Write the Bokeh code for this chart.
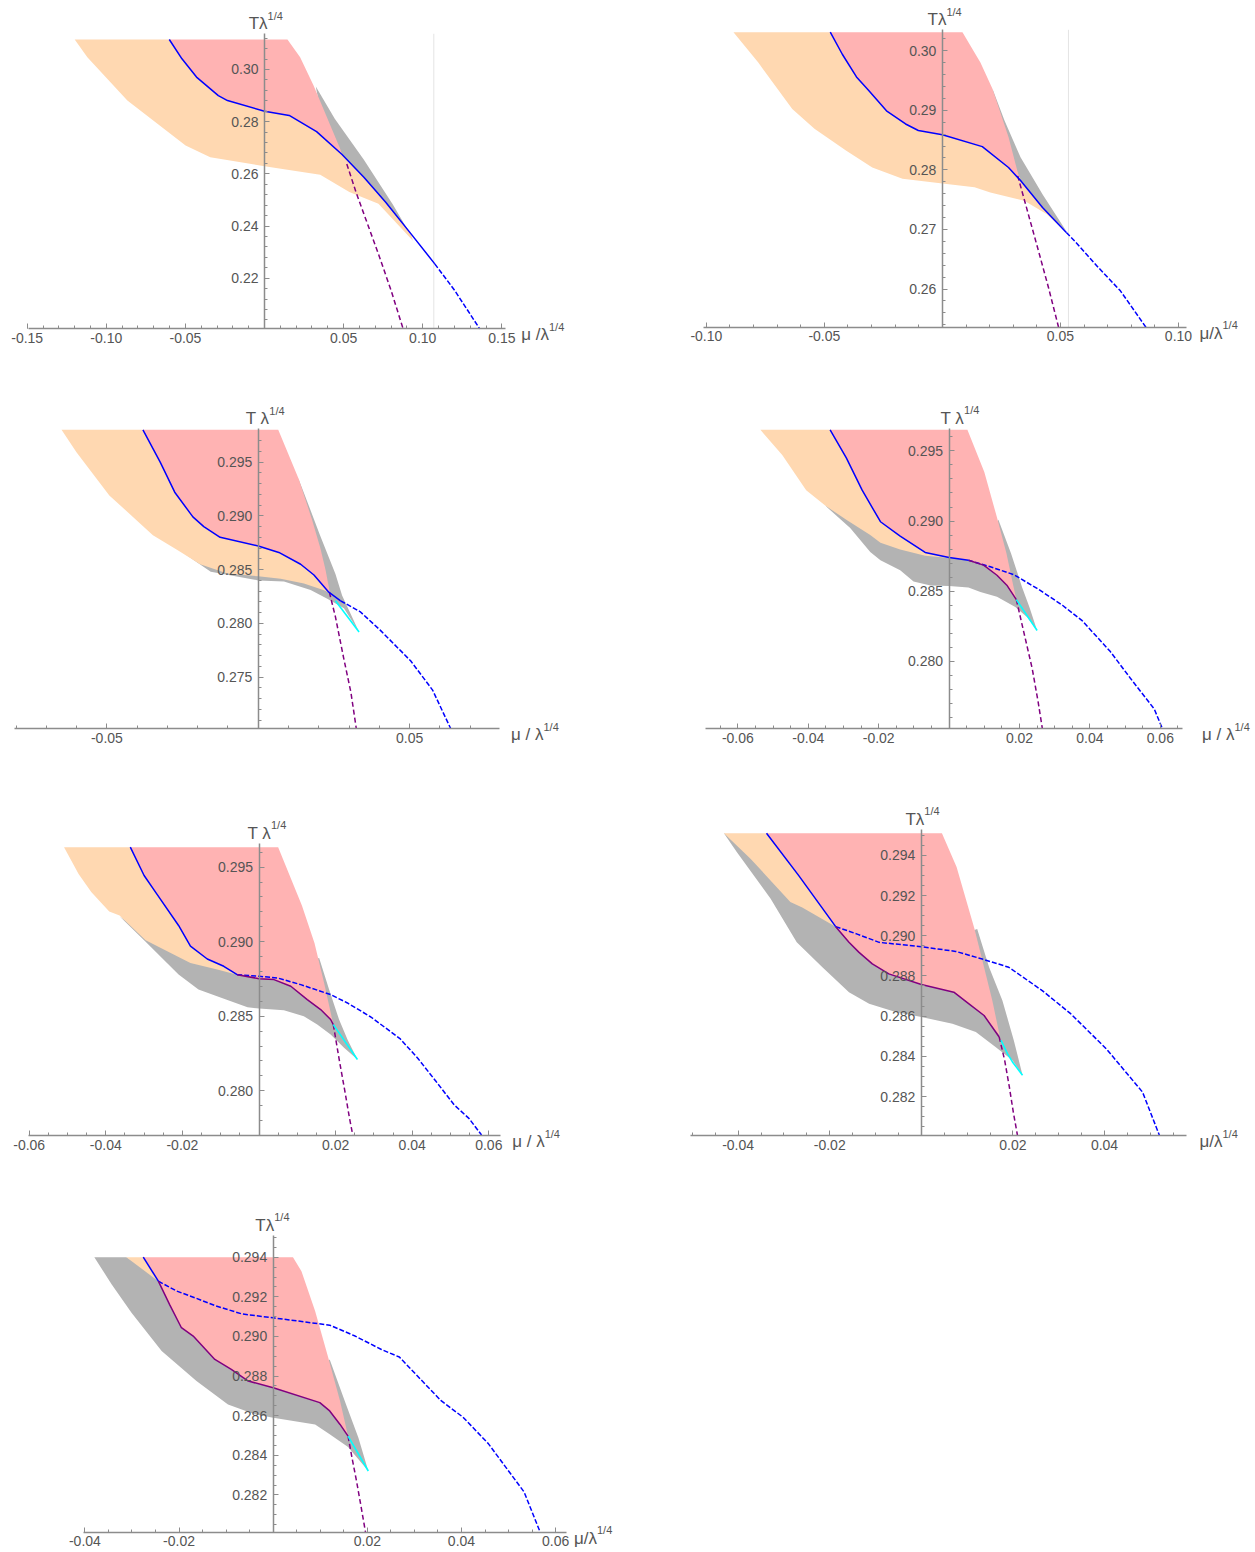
import numpy as np
from bokeh.plotting import figure
from bokeh.models import Range1d, LinearAxis, FixedTicker, NumeralTickFormatter, Label
from bokeh.layouts import column, row
from bokeh.embed import file_html
from bokeh.resources import INLINE

# ---------------- colours / fonts ----------------
ORANGE = "#FFD8B1"
PINK = "#FFB3B3"
GREY = "#B3B3B3"
BLUE = "#0000FF"
PURPLE = "#800080"
CYAN = "#00FFFF"
AXIS = "#8C8C8C"
TXT = "#555555"
FONT = "Liberation Sans"

# ================= DATA (mu/lambda^1/4 , T lambda^1/4) =================
# ---- panel 1 ----
P1_ORANGE_MU = [-0.1200, -0.1120, -0.0867, -0.0499, -0.0343, 0.0000, 0.0352, 0.0536, 0.0720, 0.0938, 0.0926, 0.0766, 0.0628, 0.0490, 0.0329, 0.0156, 0.0000, -0.0234, -0.0292, -0.0430, -0.0522, -0.0602]
P1_ORANGE_T = [0.3115, 0.3047, 0.2881, 0.2709, 0.2664, 0.2629, 0.2597, 0.2530, 0.2485, 0.2344, 0.2370, 0.2491, 0.2587, 0.2674, 0.2762, 0.2824, 0.2840, 0.2881, 0.2900, 0.2971, 0.3041, 0.3115]
P1_PINK_MU = [-0.0602, 0.0145, 0.0225, 0.0310, 0.0478, 0.0490, 0.0329, 0.0156, 0.0000, -0.0234, -0.0292, -0.0430, -0.0522]
P1_PINK_T = [0.3115, 0.3115, 0.3047, 0.2939, 0.2696, 0.2674, 0.2762, 0.2824, 0.2840, 0.2881, 0.2900, 0.2971, 0.3041]
P1_GREY_MU = [0.0324, 0.0444, 0.0628, 0.0812, 0.0926, 0.0766, 0.0628, 0.0490, 0.0360]
P1_GREY_T = [0.2935, 0.2811, 0.2654, 0.2482, 0.2364, 0.2491, 0.2587, 0.2674, 0.2820]
P1_BLUE_MU = [-0.0602, -0.0522, -0.0430, -0.0292, -0.0234, 0.0000, 0.0156, 0.0329, 0.0490, 0.0628, 0.0766, 0.0926, 0.1076]
P1_BLUE_T = [0.3115, 0.3041, 0.2971, 0.2900, 0.2881, 0.2840, 0.2824, 0.2762, 0.2674, 0.2587, 0.2491, 0.2370, 0.2255]
P1_BLUE_DASH_MU = [0.1076, 0.1202, 0.1360]
P1_BLUE_DASH_T = [0.2255, 0.2153, 0.2006]
P1_PURPLE_DASH_MU = [0.0520, 0.0582, 0.0651, 0.0720, 0.0800, 0.0876]
P1_PURPLE_DASH_T = [0.2638, 0.2523, 0.2408, 0.2293, 0.2153, 0.2006]
P1_VLINE = 0.107

# ---- panel 2 ----
P2_ORANGE_MU = [-0.0885, -0.0780, -0.0636, -0.0542, -0.0407, -0.0297, -0.0169, 0.0000, 0.0136, 0.0203, 0.0347, 0.0441, 0.0525, 0.0424, 0.0331, 0.0280, 0.0169, 0.0000, -0.0102, -0.0156, -0.0237, -0.0314, -0.0364, -0.0424, -0.0475]
P2_ORANGE_T = [0.3031, 0.2980, 0.2902, 0.2869, 0.2832, 0.2804, 0.2785, 0.2777, 0.2771, 0.2762, 0.2748, 0.2726, 0.2695, 0.2737, 0.2782, 0.2804, 0.2839, 0.2859, 0.2866, 0.2877, 0.2899, 0.2934, 0.2956, 0.2994, 0.3031]
P2_PINK_MU = [-0.0475, 0.0085, 0.0161, 0.0212, 0.0280, 0.0319, 0.0331, 0.0280, 0.0169, 0.0000, -0.0102, -0.0156, -0.0237, -0.0314, -0.0364, -0.0424]
P2_PINK_T = [0.3031, 0.3031, 0.2980, 0.2936, 0.2855, 0.2796, 0.2782, 0.2804, 0.2839, 0.2859, 0.2866, 0.2877, 0.2899, 0.2934, 0.2956, 0.2994]
P2_GREY_MU = [0.0212, 0.0263, 0.0331, 0.0424, 0.0525, 0.0424, 0.0331, 0.0240]
P2_GREY_T = [0.2936, 0.2883, 0.2821, 0.2759, 0.2697, 0.2737, 0.2782, 0.2870]
P2_BLUE_MU = [-0.0475, -0.0424, -0.0364, -0.0314, -0.0237, -0.0156, -0.0102, 0.0000, 0.0169, 0.0280, 0.0331, 0.0424, 0.0525]
P2_BLUE_T = [0.3031, 0.2994, 0.2956, 0.2934, 0.2899, 0.2877, 0.2866, 0.2859, 0.2839, 0.2804, 0.2782, 0.2737, 0.2695]
P2_BLUE_DASH_MU = [0.0525, 0.0559, 0.0661, 0.0754, 0.0862]
P2_BLUE_DASH_T = [0.2695, 0.2681, 0.2636, 0.2597, 0.2536]
P2_PURPLE_DASH_MU = [0.0319, 0.0356, 0.0407, 0.0449, 0.0492]
P2_PURPLE_DASH_T = [0.2790, 0.2737, 0.2664, 0.2603, 0.2536]
P2_VLINE = 0.0534

# ---- panel 3 ----
P3_GREY_MU = [0.0132, 0.0150, 0.0204, 0.0255, 0.0277, 0.0333, 0.0283, 0.0228, 0.0173, 0.0085, 0.0000, -0.0157, -0.0240, -0.0180, 0.0000, 0.0150]
P3_GREY_T = [0.2935, 0.2922, 0.2882, 0.2846, 0.2826, 0.2792, 0.2814, 0.2823, 0.2831, 0.2839, 0.2840, 0.2848, 0.2864, 0.2862, 0.2855, 0.2848]
P3_ORANGE_MU = [-0.0650, -0.0600, -0.0492, -0.0348, -0.0266, -0.0192, -0.0102, 0.0000, 0.0074, 0.0151, 0.0217, 0.0237, 0.0184, 0.0140, 0.0068, 0.0000, -0.0126, -0.0180, -0.0216, -0.0276, -0.0324, -0.0381]
P3_ORANGE_T = [0.2980, 0.2959, 0.2919, 0.2882, 0.2868, 0.2855, 0.28463, 0.28438, 0.28416, 0.2837, 0.28308, 0.2828, 0.2845, 0.2855, 0.2866, 0.2872, 0.2880, 0.2890, 0.2899, 0.2922, 0.2950, 0.2980]
P3_PINK_MU = [-0.0381, 0.0066, 0.0134, 0.0177, 0.0205, 0.0222, 0.0237, 0.0184, 0.0140, 0.0068, 0.0000, -0.0126, -0.0180, -0.0216, -0.0276, -0.0324]
P3_PINK_T = [0.2980, 0.2980, 0.2934, 0.2897, 0.2870, 0.2850, 0.2828, 0.2845, 0.2855, 0.2866, 0.2872, 0.2880, 0.2890, 0.2899, 0.2922, 0.2950]
P3_BLUE_MU = [-0.0381, -0.0324, -0.0276, -0.0216, -0.0180, -0.0126, 0.0000, 0.0068, 0.0140, 0.0184, 0.0233, 0.0272]
P3_BLUE_T = [0.2980, 0.2950, 0.2922, 0.2899, 0.2890, 0.2880, 0.2872, 0.2866, 0.2855, 0.2845, 0.2829, 0.2821]
P3_BLUE_DASH_MU = [0.0272, 0.0336, 0.0402, 0.0504, 0.0576, 0.0636]
P3_BLUE_DASH_T = [0.2821, 0.2811, 0.2794, 0.2765, 0.2738, 0.2702]
P3_PURPLE_DASH_MU = [0.0235, 0.0255, 0.0282, 0.0306, 0.0324]
P3_PURPLE_DASH_T = [0.2829, 0.2806, 0.2768, 0.2736, 0.2702]
P3_CYAN_MU = [0.0255, 0.0333]
P3_CYAN_T = [0.2821, 0.2792]

# ---- panel 4 ----
P4_GREY_MU = [-0.0352, -0.0281, -0.0224, -0.0195, -0.0139, -0.0101, -0.0053, 0.0000, 0.0055, 0.0089, 0.0136, 0.0188, 0.0221, 0.0250, 0.0228, 0.0207, 0.0176, 0.0140, 0.0100, 0.0000, -0.0139, -0.0224, -0.0290]
P4_GREY_T = [0.2911, 0.2895, 0.2878, 0.2872, 0.2865, 0.2857, 0.2854, 0.28538, 0.28526, 0.28495, 0.2846, 0.28388, 0.28317, 0.2822, 0.28388, 0.28531, 0.28769, 0.2901, 0.2885, 0.2880, 0.2884, 0.2895, 0.2904]
P4_ORANGE_MU = [-0.0536, -0.0474, -0.0406, -0.0352, -0.0292, -0.0224, -0.0195, -0.0139, -0.0068, 0.0000, -0.0068, -0.0139, -0.0195, -0.0247, -0.0292, -0.0338]
P4_ORANGE_T = [0.2965, 0.2947, 0.2922, 0.2911, 0.2901, 0.2890, 0.28845, 0.28798, 0.28752, 0.28736, 0.28776, 0.28893, 0.28995, 0.2922, 0.2945, 0.2965]
P4_PINK_MU = [-0.0338, 0.0052, 0.0100, 0.0138, 0.0163, 0.0179, 0.0191, 0.0164, 0.0136, 0.0098, 0.0055, 0.0000, -0.0068, -0.0139, -0.0195, -0.0247, -0.0292]
P4_PINK_T = [0.2965, 0.2965, 0.2935, 0.29007, 0.28769, 0.28579, 0.2844, 0.28543, 0.28614, 0.28686, 0.28721, 0.2874, 0.28776, 0.28893, 0.28995, 0.2922, 0.2945]
P4_BLUE_MU = [-0.0338, -0.0292, -0.0247, -0.0195, -0.0139, -0.0068, 0.0000, 0.0055]
P4_BLUE_T = [0.2965, 0.2945, 0.2922, 0.28995, 0.28893, 0.28776, 0.2874, 0.28721]
P4_BLUE_DASH_MU = [0.0055, 0.0117, 0.0183, 0.0250, 0.0322, 0.0378, 0.0458, 0.0515, 0.0583, 0.0606]
P4_BLUE_DASH_T = [0.28721, 0.28674, 0.28619, 0.2852, 0.2840, 0.2829, 0.2807, 0.2788, 0.2766, 0.2752]
P4_PURPLE_MU = [0.0055, 0.0098, 0.0136, 0.0164, 0.0191]
P4_PURPLE_T = [0.28721, 0.28686, 0.28614, 0.28543, 0.2844]
P4_PURPLE_DASH_MU = [0.0191, 0.0213, 0.0236, 0.0253, 0.0265]
P4_PURPLE_DASH_T = [0.2844, 0.2820, 0.2795, 0.2771, 0.2752]
P4_CYAN_MU = [0.0191, 0.0250]
P4_CYAN_T = [0.2844, 0.2822]

# ---- panel 5 ----
P5_GREY_MU = [-0.0364, -0.0296, -0.0210, -0.0158, -0.0106, -0.0030, 0.0000, 0.0065, 0.0117, 0.0152, 0.0187, 0.0222, 0.0257, 0.0231, 0.0209, 0.0183, 0.0157, 0.0100, 0.0000, -0.0109, -0.0201, -0.0296]
P5_GREY_T = [0.2917, 0.2900, 0.2878, 0.2868, 0.2863, 0.2856, 0.28552, 0.2854, 0.2850, 0.28444, 0.28377, 0.28288, 0.2821, 0.28344, 0.28478, 0.28679, 0.2889, 0.2885, 0.2880, 0.2883, 0.2892, 0.2904]
P5_ORANGE_MU = [-0.0509, -0.0471, -0.0438, -0.0391, -0.0364, -0.0296, -0.0201, -0.0179, -0.0109, -0.0057, -0.0092, -0.0135, -0.0179, -0.0210, -0.0267, -0.0300, -0.0336]
P5_ORANGE_T = [0.29634, 0.29455, 0.29333, 0.29203, 0.29176, 0.29009, 0.28886, 0.28857, 0.28813, 0.28779, 0.28835, 0.28884, 0.2897, 0.29109, 0.29321, 0.29444, 0.29634]
P5_PINK_MU = [-0.0336, 0.0050, 0.0112, 0.0145, 0.0170, 0.0194, 0.0187, 0.0161, 0.0126, 0.0083, 0.0039, 0.0000, -0.0057, -0.0092, -0.0135, -0.0179, -0.0210, -0.0267, -0.0300]
P5_PINK_T = [0.29634, 0.29634, 0.29243, 0.2899, 0.28723, 0.28444, 0.28478, 0.28545, 0.28612, 0.28701, 0.28746, 0.28752, 0.28779, 0.28835, 0.28884, 0.2897, 0.29109, 0.29321, 0.29444]
P5_BLUE_MU = [-0.0336, -0.0300, -0.0267, -0.0210, -0.0179, -0.0135, -0.0092, -0.0057]
P5_BLUE_T = [0.29634, 0.29444, 0.29321, 0.29109, 0.2897, 0.28884, 0.28835, 0.28779]
P5_BLUE_DASH_MU = [-0.0057, 0.0000, 0.0048, 0.0109, 0.0187, 0.0231, 0.0292, 0.0368, 0.0415, 0.0463, 0.0510, 0.0548, 0.0581]
P5_BLUE_DASH_T = [0.28779, 0.28768, 0.28757, 0.28712, 0.28645, 0.28589, 0.28495, 0.2835, 0.28217, 0.2806, 0.27904, 0.27815, 0.27703]
P5_PURPLE_MU = [-0.0057, 0.0000, 0.0039, 0.0083, 0.0126, 0.0161, 0.0187, 0.0194]
P5_PURPLE_T = [0.28779, 0.28752, 0.28746, 0.28701, 0.28612, 0.28545, 0.28478, 0.28444]
P5_PURPLE_DASH_MU = [0.0194, 0.0210, 0.0224, 0.0236, 0.0245]
P5_PURPLE_DASH_T = [0.28444, 0.2820, 0.2800, 0.2782, 0.2770]
P5_CYAN_MU = [0.0194, 0.0257]
P5_CYAN_T = [0.28444, 0.2821]

# ---- panel 6 ----
P6_GREY_MU = [-0.0431, -0.0403, -0.0329, -0.0272, -0.0216, -0.0158, -0.0114, -0.0056, 0.0000, 0.0068, 0.0119, 0.0162, 0.0199, 0.0221, 0.0202, 0.0177, 0.0148, 0.0122, 0.0080, -0.0100, -0.0200, -0.0300, -0.0400]
P6_GREY_T = [0.2951, 0.29417, 0.29184, 0.28968, 0.28843, 0.28719, 0.28661, 0.2862, 0.28595, 0.28562, 0.28521, 0.28446, 0.2838, 0.28306, 0.28479, 0.28678, 0.28843, 0.29033, 0.2900, 0.2895, 0.2912, 0.2925, 0.2948]
P6_ORANGE_MU = [-0.0431, -0.0338, -0.0268, -0.0187, -0.0260, -0.0286, -0.0373]
P6_ORANGE_T = [0.2951, 0.2951, 0.2930, 0.29045, 0.2914, 0.29168, 0.29383]
P6_PINK_MU = [-0.0338, 0.0045, 0.0077, 0.0116, 0.0137, 0.0155, 0.0171, 0.0137, 0.0104, 0.0071, 0.0000, -0.0071, -0.0107, -0.0136, -0.0158, -0.0187, -0.0268]
P6_PINK_T = [0.2951, 0.2951, 0.29342, 0.29035, 0.28843, 0.28678, 0.28504, 0.28603, 0.28661, 0.28719, 0.28757, 0.2881, 0.2886, 0.28917, 0.28967, 0.29045, 0.2930]
P6_BLUE_MU = [-0.0338, -0.0268, -0.0187]
P6_BLUE_T = [0.2951, 0.2930, 0.29045]
P6_BLUE_DASH_MU = [-0.0187, -0.0140, -0.0092, 0.0000, 0.0075, 0.0133, 0.0191, 0.0264, 0.0326, 0.0404, 0.0483, 0.0520]
P6_BLUE_DASH_T = [0.29045, 0.29008, 0.28967, 0.28945, 0.28922, 0.28884, 0.28843, 0.28727, 0.28612, 0.28437, 0.28222, 0.28006]
P6_PURPLE_MU = [-0.0187, -0.0158, -0.0136, -0.0107, -0.0071, 0.0000, 0.0071, 0.0104, 0.0137, 0.0170]
P6_PURPLE_T = [0.29045, 0.28967, 0.28917, 0.2886, 0.2881, 0.28757, 0.28719, 0.28661, 0.28603, 0.28496]
P6_PURPLE_DASH_MU = [0.0170, 0.0182, 0.0192, 0.0201, 0.0210]
P6_PURPLE_DASH_T = [0.28496, 0.2838, 0.2825, 0.2812, 0.28006]
P6_CYAN_MU = [0.0174, 0.0188, 0.0199, 0.0221]
P6_CYAN_T = [0.2848, 0.28413, 0.28372, 0.28306]

# ---- panel 7 ----
P7_GREY_MU = [-0.0380, -0.0343, -0.0301, -0.0237, -0.0163, -0.0096, -0.0039, 0.0000, 0.0089, 0.0120, 0.0159, 0.0202, 0.0181, 0.0152, 0.0120, 0.0080, -0.0100, -0.0230, -0.0312]
P7_GREY_T = [0.2940, 0.29262, 0.29119, 0.28926, 0.28775, 0.28657, 0.28607, 0.2859, 0.28556, 0.28506, 0.28442, 0.28321, 0.28489, 0.28674, 0.28884, 0.2880, 0.2895, 0.2930, 0.2940]
P7_ORANGE_MU = [-0.0312, -0.0276, -0.0244]
P7_ORANGE_T = [0.2940, 0.2940, 0.29279]
P7_PINK_MU = [-0.0276, 0.0042, 0.0060, 0.0089, 0.0117, 0.0142, 0.0159, 0.0142, 0.0120, 0.0099, 0.0000, -0.0053, -0.0089, -0.0124, -0.0170, -0.0195, -0.0220, -0.0244]
P7_PINK_T = [0.2940, 0.2940, 0.29329, 0.29128, 0.28892, 0.28674, 0.28497, 0.28556, 0.28624, 0.28666, 0.28741, 0.28775, 0.28834, 0.28884, 0.29002, 0.29044, 0.29161, 0.29279]
P7_BLUE_MU = [-0.0276, -0.0244]
P7_BLUE_T = [0.2940, 0.29279]
P7_BLUE_DASH_MU = [-0.0244, -0.0205, -0.0166, -0.0124, -0.0067, 0.0000, 0.0081, 0.0120, 0.0174, 0.0230, 0.0268, 0.0356, 0.0403, 0.0457, 0.0504, 0.0533, 0.0567]
P7_BLUE_DASH_T = [0.29279, 0.29229, 0.29195, 0.29156, 0.29114, 0.29094, 0.29069, 0.29057, 0.29002, 0.28934, 0.28896, 0.28677, 0.28593, 0.28459, 0.28308, 0.28215, 0.28013]
P7_PURPLE_MU = [-0.0244, -0.0220, -0.0195, -0.0170, -0.0124, -0.0089, -0.0053, 0.0000, 0.0099, 0.0120, 0.0142, 0.0159]
P7_PURPLE_T = [0.29279, 0.29161, 0.29044, 0.29002, 0.28884, 0.28834, 0.28775, 0.28741, 0.28666, 0.28624, 0.28556, 0.28497]
P7_PURPLE_DASH_MU = [0.0159, 0.0168, 0.0177, 0.0186, 0.0196]
P7_PURPLE_DASH_T = [0.28497, 0.2838, 0.2827, 0.2815, 0.28013]
P7_CYAN_MU = [0.0159, 0.0202]
P7_CYAN_T = [0.28497, 0.28321]

# ---- tick labels ----
P1_XTICKS = [-0.15, -0.10, -0.05, 0.05, 0.10, 0.15]
P1_YTICKS = [0.22, 0.24, 0.26, 0.28, 0.30]
P2_XTICKS = [-0.10, -0.05, 0.05, 0.10]
P2_YTICKS = [0.26, 0.27, 0.28, 0.29, 0.30]
P3_XTICKS = [-0.05, 0.05]
P3_YTICKS = [0.275, 0.280, 0.285, 0.290, 0.295]
P4_XTICKS = [-0.06, -0.04, -0.02, 0.02, 0.04, 0.06]
P4_YTICKS = [0.280, 0.285, 0.290, 0.295]
P5_XTICKS = [-0.06, -0.04, -0.02, 0.02, 0.04, 0.06]
P5_YTICKS = [0.280, 0.285, 0.290, 0.295]
P6_XTICKS = [-0.04, -0.02, 0.02, 0.04]
P6_YTICKS = [0.282, 0.284, 0.286, 0.288, 0.290, 0.292, 0.294]
P7_XTICKS = [-0.04, -0.02, 0.02, 0.04, 0.06]
P7_YTICKS = [0.282, 0.284, 0.286, 0.288, 0.290, 0.292, 0.294]


def minor(lo, hi, step):
    vals = np.round(np.arange(lo, hi + step / 2, step), 5)
    return [float(v) for v in vals]


PANELS = [
    dict(size=(627, 385), xb=(-0.149, 0.152), xpix=(28.3, 504.5), yb=(0.2006, 0.3137), B=328.3, yref=(0.3115, 39.0),
         xt=P1_XTICKS, xm=minor(-0.15, 0.15, 0.01), yt=P1_YTICKS, ym=minor(0.204, 0.312, 0.004), xf="0.00", yf="0.00",
         ylab="Tλ", yanc=3, xlab="μ /λ", xanc=44,
         grey=(P1_GREY_MU, P1_GREY_T), orange=(P1_ORANGE_MU, P1_ORANGE_T), pink=(P1_PINK_MU, P1_PINK_T),
         blue=(P1_BLUE_MU, P1_BLUE_T), bdash=(P1_BLUE_DASH_MU, P1_BLUE_DASH_T), purple=None,
         pdash=(P1_PURPLE_DASH_MU, P1_PURPLE_DASH_T), cyan=None, vline=P1_VLINE),
    dict(size=(628, 385), xb=(-0.1012, 0.1034), xpix=(76.0, 559.0), yb=(0.2536, 0.3035), B=326.7, yref=(0.3031, 31.7),
         xt=P2_XTICKS, xm=minor(-0.10, 0.10, 0.01), yt=P2_YTICKS, ym=minor(0.254, 0.302, 0.002), xf="0.00", yf="0.00",
         ylab="Tλ", yanc=4, xlab="μ/λ", xanc=36,
         grey=(P2_GREY_MU, P2_GREY_T), orange=(P2_ORANGE_MU, P2_ORANGE_T), pink=(P2_PINK_MU, P2_PINK_T),
         blue=(P2_BLUE_MU, P2_BLUE_T), bdash=(P2_BLUE_DASH_MU, P2_BLUE_DASH_T), purple=None,
         pdash=(P2_PURPLE_DASH_MU, P2_PURPLE_DASH_T), cyan=None, vline=P2_VLINE),
    dict(size=(627, 405), xb=(-0.0806, 0.0797), xpix=(13.8, 499.0), yb=(0.2702, 0.2981), B=343.3, yref=(0.2980, 44.3),
         xt=P3_XTICKS, xm=minor(-0.08, 0.07, 0.01), yt=P3_YTICKS, ym=minor(0.271, 0.297, 0.001), xf="0.00", yf="0.000",
         ylab="T λ", yanc=11, xlab="μ / λ", xanc=44,
         grey=(P3_GREY_MU, P3_GREY_T), orange=(P3_ORANGE_MU, P3_ORANGE_T), pink=(P3_PINK_MU, P3_PINK_T),
         blue=(P3_BLUE_MU, P3_BLUE_T), bdash=(P3_BLUE_DASH_MU, P3_BLUE_DASH_T), purple=None,
         pdash=(P3_PURPLE_DASH_MU, P3_PURPLE_DASH_T), cyan=(P3_CYAN_MU, P3_CYAN_T), vline=None),
    dict(size=(628, 405), xb=(-0.0692, 0.0663), xpix=(78.0, 555.0), yb=(0.2752, 0.2966), B=343.3, yref=(0.2965, 44.3),
         xt=P4_XTICKS, xm=minor(-0.065, 0.065, 0.005), yt=P4_YTICKS, ym=minor(0.276, 0.296, 0.001), xf="0.00", yf="0.000",
         ylab="T λ", yanc=15, xlab="μ / λ", xanc=52,
         grey=(P4_GREY_MU, P4_GREY_T), orange=(P4_ORANGE_MU, P4_ORANGE_T), pink=(P4_PINK_MU, P4_PINK_T),
         blue=(P4_BLUE_MU, P4_BLUE_T), bdash=(P4_BLUE_DASH_MU, P4_BLUE_DASH_T), purple=(P4_PURPLE_MU, P4_PURPLE_T),
         pdash=(P4_PURPLE_DASH_MU, P4_PURPLE_DASH_T), cyan=(P4_CYAN_MU, P4_CYAN_T), vline=None),
    dict(size=(627, 400), xb=(-0.0601, 0.0631), xpix=(28.3, 500.2), yb=(0.2770, 0.2966), B=345.0, yref=(0.29634, 56.7),
         xt=P5_XTICKS, xm=minor(-0.06, 0.06, 0.005), yt=P5_YTICKS, ym=minor(0.278, 0.296, 0.001), xf="0.00", yf="0.000",
         ylab="T λ", yanc=12, xlab="μ / λ", xanc=44,
         grey=(P5_GREY_MU, P5_GREY_T), orange=(P5_ORANGE_MU, P5_ORANGE_T), pink=(P5_PINK_MU, P5_PINK_T),
         blue=(P5_BLUE_MU, P5_BLUE_T), bdash=(P5_BLUE_DASH_MU, P5_BLUE_DASH_T), purple=(P5_PURPLE_MU, P5_PURPLE_T),
         pdash=(P5_PURPLE_DASH_MU, P5_PURPLE_DASH_T), cyan=(P5_CYAN_MU, P5_CYAN_T), vline=None),
    dict(size=(628, 400), xb=(-0.0504, 0.0579), xpix=(63.0, 559.0), yb=(0.28006, 0.2953), B=345.0, yref=(0.2951, 42.7),
         xt=P6_XTICKS, xm=minor(-0.05, 0.055, 0.005), yt=P6_YTICKS, ym=minor(0.2805, 0.295, 0.0005), xf="0.00", yf="0.000",
         ylab="Tλ", yanc=3, xlab="μ/λ", xanc=36,
         grey=(P6_GREY_MU, P6_GREY_T), orange=(P6_ORANGE_MU, P6_ORANGE_T), pink=(P6_PINK_MU, P6_PINK_T),
         blue=(P6_BLUE_MU, P6_BLUE_T), bdash=(P6_BLUE_DASH_MU, P6_BLUE_DASH_T), purple=(P6_PURPLE_MU, P6_PURPLE_T),
         pdash=(P6_PURPLE_DASH_MU, P6_PURPLE_DASH_T), cyan=(P6_CYAN_MU, P6_CYAN_T), vline=None),
    dict(size=(627, 362), xb=(-0.0403, 0.0622), xpix=(83.0, 565.5), yb=(0.28012, 0.2951), B=341.7, yref=(0.2940, 66.7),
         xt=P7_XTICKS, xm=minor(-0.04, 0.06, 0.005), yt=P7_YTICKS, ym=minor(0.2805, 0.295, 0.0005), xf="0.00", yf="0.000",
         ylab="Tλ", yanc=1, xlab="μ/λ", xanc=31,
         grey=(P7_GREY_MU, P7_GREY_T), orange=(P7_ORANGE_MU, P7_ORANGE_T), pink=(P7_PINK_MU, P7_PINK_T),
         blue=(P7_BLUE_MU, P7_BLUE_T), bdash=(P7_BLUE_DASH_MU, P7_BLUE_DASH_T), purple=(P7_PURPLE_MU, P7_PURPLE_T),
         pdash=(P7_PURPLE_DASH_MU, P7_PURPLE_DASH_T), cyan=(P7_CYAN_MU, P7_CYAN_T), vline=None),
]


def style_axis(ax, standoff):
    ax.axis_line_color = AXIS
    ax.axis_line_width = 1.5
    ax.major_tick_line_color = AXIS
    ax.minor_tick_line_color = AXIS
    ax.major_tick_line_width = 1
    ax.major_tick_in = 5
    ax.major_tick_out = 0
    ax.minor_tick_in = 3
    ax.minor_tick_out = 0
    ax.major_label_text_font = FONT
    ax.major_label_text_font_size = "14px"
    ax.major_label_text_color = TXT
    ax.major_label_standoff = standoff


def make_panel(d):
    W, H = d["size"]
    xlo, xhi = d["xb"]
    L, R = d["xpix"]
    ylo, ytop = d["yb"]
    B = d["B"]
    tref, tp = d["yref"]
    sx = (R - L) / (xhi - xlo)
    x0 = xlo - L / sx
    x1 = x0 + W / sx
    sy = (B - tp) / (tref - ylo)
    y0 = ylo - (H - B) / sy
    y1 = y0 + H / sy

    p = figure(width=W, height=H, x_range=Range1d(x0, x1), y_range=Range1d(y0, y1),
               output_backend="svg", toolbar_location=None, x_axis_type=None, y_axis_type=None,
               min_border=0)
    p.outline_line_color = None
    p.background_fill_color = "white"
    p.border_fill_color = "white"

    if d["vline"] is not None:
        p.line([d["vline"], d["vline"]], [ylo, ytop], line_color="#E4E4E4", line_width=1)

    p.patch(*d["grey"], fill_color=GREY, line_color=None)
    p.patch(*d["orange"], fill_color=ORANGE, line_color=None)
    p.patch(*d["pink"], fill_color=PINK, line_color=None)

    p.line(*d["pdash"], line_color=PURPLE, line_width=1.5, line_dash="5 3")
    p.line(*d["bdash"], line_color=BLUE, line_width=1.5, line_dash="5 2")
    if d["purple"] is not None:
        p.line(*d["purple"], line_color=PURPLE, line_width=1.5)
    p.line(*d["blue"], line_color=BLUE, line_width=1.5)
    if d["cyan"] is not None:
        p.line(*d["cyan"], line_color=CYAN, line_width=1.6)

    xax = LinearAxis(fixed_location=ylo, bounds=(xlo, xhi),
                     ticker=FixedTicker(ticks=d["xt"], minor_ticks=d["xm"]),
                     formatter=NumeralTickFormatter(format=d["xf"]))
    style_axis(xax, 4)
    p.add_layout(xax, "below")
    yax = LinearAxis(fixed_location=0.0, bounds=(ylo, ytop),
                     ticker=FixedTicker(ticks=d["yt"], minor_ticks=d["ym"]),
                     formatter=NumeralTickFormatter(format=d["yf"]))
    style_axis(yax, 6)
    p.add_layout(yax, "left")

    # axis labels (main text + raised "1/4")
    p.add_layout(Label(x=0.0, y=ytop, x_offset=d["yanc"], y_offset=10, text=d["ylab"],
                       text_align="right", text_baseline="alphabetic", text_font=FONT,
                       text_font_size="17px", text_color=TXT))
    p.add_layout(Label(x=0.0, y=ytop, x_offset=d["yanc"], y_offset=18, text="1/4",
                       text_align="left", text_baseline="alphabetic", text_font=FONT,
                       text_font_size="11px", text_color=TXT))
    p.add_layout(Label(x=xhi, y=ylo, x_offset=d["xanc"], y_offset=-6, text=d["xlab"],
                       text_align="right", text_baseline="alphabetic", text_font=FONT,
                       text_font_size="17px", text_color=TXT))
    p.add_layout(Label(x=xhi, y=ylo, x_offset=d["xanc"], y_offset=2, text="1/4",
                       text_align="left", text_baseline="alphabetic", text_font=FONT,
                       text_font_size="11px", text_color=TXT))
    return p


figs = [make_panel(d) for d in PANELS]
layout = column(row(figs[0], figs[1]), row(figs[2], figs[3]), row(figs[4], figs[5]), row(figs[6]))

open("out.html", "w").write(file_html(layout, INLINE))
